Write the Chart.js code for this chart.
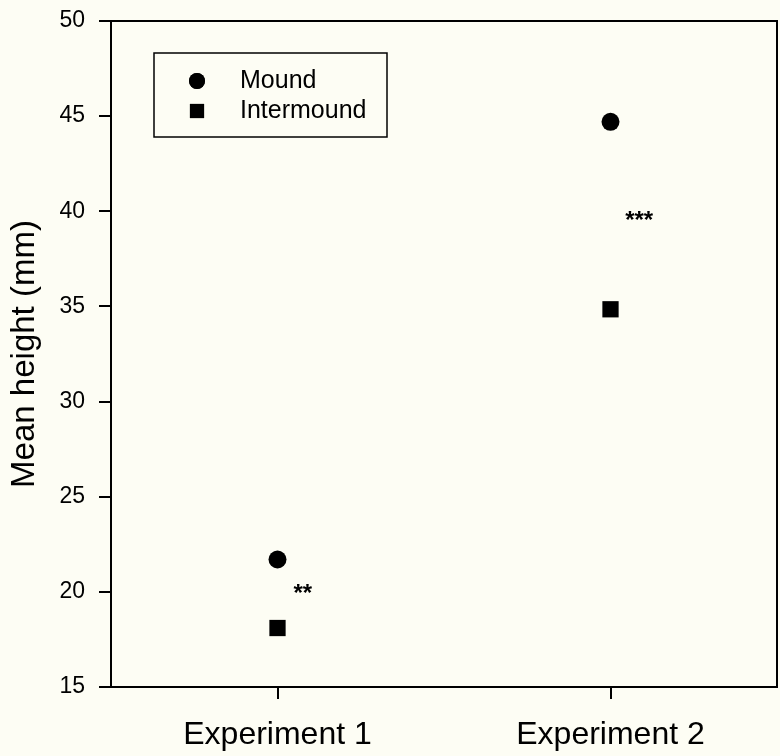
<!DOCTYPE html>
<html>
<head>
<meta charset="utf-8">
<title>Mean height</title>
<script src="https://cdn.jsdelivr.net/npm/chart.js@4.4.1/dist/chart.umd.min.js"></script>
<style>
    body { margin: 0; background: #fdfdf4; }
</style>
</head>
<body>
<canvas id="altura" width="780" height="756"></canvas>
<script>
// categories and their positions on the x axis
var experiments = ['Experiment 1', 'Experiment 2'];
var expX = [0.5, 1.5];

// mean height (mm)
var mound = [21.7, 44.7];
var intermound = [18.1, 34.85];

// significance marks
var sigLabels = ['**', '***'];
var sigX = [0.576, 1.586];
var sigY = [20.2, 39.8];

var yMin = 15, yMax = 50, yStep = 5;

var FONT = '"Liberation Sans", Arial, sans-serif';

function points(values) {
    return values.map(function (v, i) { return { x: expX[i], y: v }; });
}

// border box, legend and asterisks
var extras = {
    id: 'extras',
    beforeDraw: function (chart) {
        var c = chart.ctx;
        c.save();
        c.fillStyle = '#fdfdf4';
        c.fillRect(0, 0, chart.width, chart.height);
        c.restore();
    },
    afterDraw: function (chart) {
        var c = chart.ctx;
        var a = chart.chartArea;
        var xs = chart.scales.x, ys = chart.scales.y;
        c.save();
        c.strokeStyle = '#000';
        c.lineWidth = 2;
        c.beginPath();
        c.moveTo(a.left, a.top);
        c.lineTo(a.right, a.top);
        c.lineTo(a.right, a.bottom);
        c.stroke();

        // asterisks
        c.fillStyle = '#000';
        c.font = 'bold 24px ' + FONT;
        c.textAlign = 'center';
        c.textBaseline = 'alphabetic';
        for (var i = 0; i < sigLabels.length; i++) {
            c.fillText(sigLabels[i], xs.getPixelForValue(sigX[i]), ys.getPixelForValue(sigY[i]) + 13);
        }

        // legend
        c.lineWidth = 1.5;
        c.strokeRect(154, 53, 233, 84);
        c.font = '25px ' + FONT;
        c.textAlign = 'left';
        c.textBaseline = 'middle';
        var rows = [81, 111];
        chart.data.datasets.forEach(function (ds, k) {
            Chart.helpers.drawPoint(c, {
                pointStyle: ds.pointStyle,
                radius: ds.pointStyle === 'rect' ? 10 : 8,
                rotation: 0,
                borderWidth: 0
            }, 197, rows[k]);
            c.fill();
            c.fillText(ds.label, 240, rows[k]);
        });
        c.restore();
    }
};

var ctx = document.getElementById('altura').getContext('2d');
var grafico = new Chart(ctx, {
    type: 'scatter',
    data: {
        datasets: [{
            label: 'Mound',
            data: points(mound),
            pointStyle: 'circle',
            pointRadius: 9,
            pointHoverRadius: 9,
            backgroundColor: '#000',
            borderColor: '#000',
            borderWidth: 0
        }, {
            label: 'Intermound',
            data: points(intermound),
            pointStyle: 'rect',
            pointRadius: 11.5,
            pointHoverRadius: 11.5,
            backgroundColor: '#000',
            borderColor: '#000',
            borderWidth: 0
        }]
    },
    options: {
        responsive: false,
        animation: false,
        layout: {
            autoPadding: false,
            padding: { top: 21, right: 3, left: 0, bottom: 0 }
        },
        plugins: {
            legend: { display: false },
            tooltip: { enabled: false }
        },
        scales: {
            x: {
                type: 'linear',
                min: 0,
                max: 2,
                afterBuildTicks: function (scale) {
                    scale.ticks = expX.map(function (v) { return { value: v }; });
                },
                afterFit: function (scale) {
                    scale.height = 69;
                    scale.paddingLeft = 0;
                    scale.paddingRight = 0;
                },
                ticks: {
                    color: '#000',
                    font: { family: FONT, size: 32 },
                    padding: 17,
                    maxRotation: 0,
                    callback: function (v) {
                        return experiments[expX.indexOf(v)];
                    }
                },
                grid: {
                    drawOnChartArea: false,
                    tickLength: 12,
                    color: '#000',
                    lineWidth: 2
                },
                border: { color: '#000', width: 2 }
            },
            y: {
                min: yMin,
                max: yMax,
                afterFit: function (scale) {
                    scale.width = 111;
                    scale.paddingTop = 0;
                    scale.paddingBottom = 0;
                },
                ticks: {
                    stepSize: yStep,
                    color: '#000',
                    font: { family: FONT, size: 23 },
                    padding: 14
                },
                grid: {
                    drawOnChartArea: false,
                    tickLength: 12,
                    color: '#000',
                    lineWidth: 2
                },
                border: { color: '#000', width: 2 },
                title: {
                    display: true,
                    text: 'Mean height (mm)',
                    color: '#000',
                    font: { family: FONT, size: 33 },
                    padding: { top: 5, bottom: 0 }
                }
            }
        }
    },
    plugins: [extras]
});
</script>
</body>
</html>
